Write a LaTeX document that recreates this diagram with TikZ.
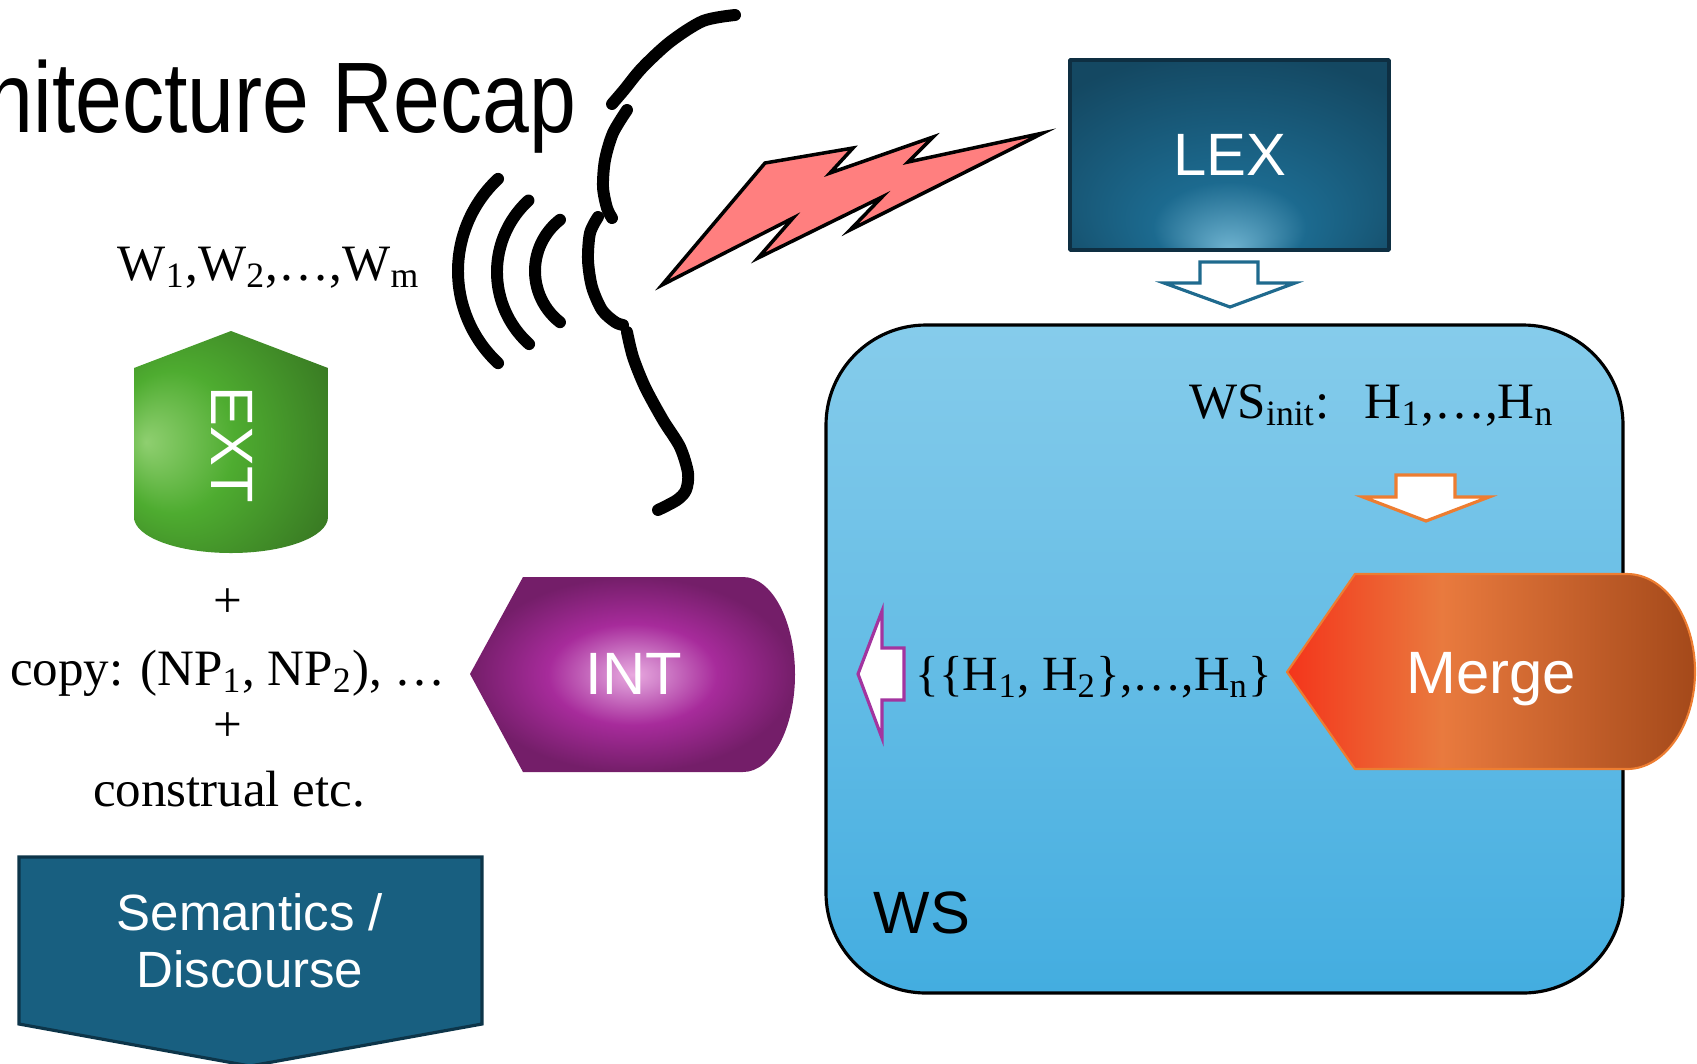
\documentclass[tikz,border=0pt]{standalone}
\usepackage{fontspec}
\setmainfont{Liberation Serif}
\setsansfont{Liberation Sans}
\newfontfamily\titlefont{Liberation Sans}[FakeStretch=0.84]

\begin{document}
\begin{tikzpicture}
        [x=0.01cm, y=-0.01cm, line cap=round, line join=round,
        every node/.style={inner sep=0pt},
        % Styles
        box text/.style={font=\sffamily\fontsize{17}{20}\selectfont, text=white},
        serif text/.style={font=\fontsize{14.5}{17}\selectfont},
        sound line/.style={line width=3.4pt},
        block arrow/.style={fill=white, line width=0.9pt, line join=miter}]

        % Colors
        \definecolor{wstop}{HTML}{86CCEB}
        \definecolor{wsmid}{HTML}{7AC5E7}
        \definecolor{wsbottom}{HTML}{43ADE0}
        \definecolor{lexdark}{HTML}{144862}
        \definecolor{lexmid}{HTML}{1C6A8F}
        \definecolor{lexglow}{HTML}{6FB3D0}
        \definecolor{lexline}{HTML}{0E2F42}
        \definecolor{intlight}{HTML}{E9A8DF}
        \definecolor{intpink}{HTML}{D386CC}
        \definecolor{intmid}{HTML}{A72B9B}
        \definecolor{intdark}{HTML}{741E69}
        \definecolor{extlight}{HTML}{8FCF70}
        \definecolor{extmid}{HTML}{4EAC30}
        \definecolor{extdark}{HTML}{397A23}
        \definecolor{mergered}{HTML}{F4351B}
        \definecolor{mergeorange}{HTML}{E97A3E}
        \definecolor{mergebrown}{HTML}{A4491A}
        \definecolor{mergeline}{HTML}{ED7D31}
        \definecolor{semfill}{HTML}{185F80}
        \definecolor{semline}{HTML}{0D3549}
        \definecolor{lexarrow}{HTML}{1F6A8E}
        \definecolor{intarrow}{HTML}{A3349F}
        \definecolor{boltcolor}{HTML}{FF7F7F}

        \pgfdeclareradialshading{lexshade}{\pgfpoint{0bp}{-25bp}}%
                {color(0bp)=(lexglow); color(12bp)=(lexmid); color(35bp)=(lexdark); color(50bp)=(lexdark)}
        \pgfdeclareradialshading{intshade}{\pgfpoint{0bp}{0bp}}%
                {color(0bp)=(intlight); color(4bp)=(intpink); color(13bp)=(intmid); color(25bp)=(intdark); color(50bp)=(intdark)}
        \pgfdeclareradialshading{extshade}{\pgfpoint{-22bp}{0bp}}%
                {color(0bp)=(extlight); color(16bp)=(extmid); color(36bp)=(extdark); color(50bp)=(extdark)}
        \pgfdeclarehorizontalshading{mergeshade}{100bp}%
                {color(0bp)=(mergered); color(25bp)=(mergered); color(44bp)=(mergeorange); color(75bp)=(mergebrown); color(100bp)=(mergebrown)}

        \useasboundingbox (0,0) rectangle (1697,1063);
        \clip (0,0) rectangle (1697,1063);

        % Title
        \node[font=\titlefont\fontsize{28.5}{33}\selectfont, anchor=base east] (title) at (577,132) {Architecture Recap};

        % The speaker: face and sound waves
        \draw[sound line] plot[smooth] coordinates {(735,15) (703,21) (670,42) (642,68) (624,90) (612,104)};
        \draw[sound line] plot[smooth] coordinates {(627,110) (613,133) (605,160) (603,187) (607,208) (612,218)};
        \draw[sound line] plot[smooth] coordinates {(598,217) (590,233) (588,260) (592,287) (602,310) (615,322) (623,325)};
        \draw[sound line] plot[smooth] coordinates {(627,332) (633,357) (645,387) (663,420) (680,447) (688,473) (686,490) (677,500) (658,510)};
        \draw[sound line] (584,271) ++(133:126) arc [start angle=133, end angle=227, radius=126];
        \draw[sound line] (594,272) ++(132:97) arc [start angle=132, end angle=227.5, radius=97];
        \draw[sound line] (600,271) ++(128:65) arc [start angle=128, end angle=232, radius=65];

        % Lightning bolt
        \draw[fill=boltcolor, line width=1pt, line join=miter]
                (662,285) -- (765,163) -- (853,148) -- (830,173) -- (933,137) -- (908,162)
                -- (1043,133) -- (850,230) -- (882,197) -- (758,258) -- (793,218) -- cycle;

        % Lexicon
        \shade[shading=lexshade] (1070,60) rectangle (1389,250);
        \draw[lexline, line width=1pt] (1070,60) rectangle (1389,250);
        \node[box text] (lex) at (1230,155) {LEX};
        \draw[block arrow, draw=lexarrow] (1200,262) -- (1258,262) -- (1258,283) -- (1295,283)
                -- (1230,307) -- (1164,283) -- (1200,283) -- cycle;

        % Workspace
        \shade[top color=wstop, middle color=wsmid, bottom color=wsbottom, rounded corners=1cm]
                (826,325) rectangle (1623,993);
        \draw[line width=0.9pt, rounded corners=1cm] (826,325) rectangle (1623,993);
        \node[serif text, anchor=base west] (wsinit) at (1189,418)
                {WS\textsubscript{init}:\hspace{10pt}H\textsubscript{1},\ldots,H\textsubscript{n}};
        \draw[block arrow, draw=mergeline] (1396,475) -- (1455,475) -- (1455,497) -- (1489,497)
                -- (1426,521) -- (1363,497) -- (1396,497) -- cycle;
        \node[serif text, font=\fontsize{14}{17}\selectfont, anchor=base west] (sets) at (915,690)
                {\{\{H\textsubscript{1}, H\textsubscript{2}\},\ldots,H\textsubscript{n}\}};
        \draw[block arrow, draw=intarrow] (858,674) -- (882,611) -- (882,648) -- (904,648)
                -- (904,700) -- (882,700) -- (882,738) -- cycle;
        \node[font=\sffamily\fontsize{17}{20}\selectfont, anchor=base west] (ws) at (873,933) {WS};

        % Merge
        \shade[shading=mergeshade] (1287,672) -- (1355,574) -- (1627,574)
                arc [start angle=-90, end angle=90, x radius=68, y radius=97.5] -- (1355,769) -- cycle;
        \draw[mergeline, line width=0.6pt] (1287,672) -- (1355,574) -- (1627,574)
                arc [start angle=-90, end angle=90, x radius=68, y radius=97.5] -- (1355,769) -- cycle;
        \node[box text, anchor=base] (merge) at (1491,693) {Merge};

        % Interpretation
        \shade[shading=intshade] (470,674) -- (523,577) -- (743,577)
                arc [start angle=-90, end angle=90, x radius=52, y radius=97.5] -- (523,772) -- cycle;
        \node[box text] (int) at (634,674) {INT};

        % Externalization
        \shade[shading=extshade]
                (231,331) -- (328,368) -- (328,517)
                arc [start angle=0, end angle=180, x radius=97, y radius=36] -- (134,368) -- cycle;
        \node[box text, rotate=-90] (ext) at (232,445) {EXT};

        % Left column
        \node[serif text, anchor=base west] (words) at (117,280)
                {W\textsubscript{1},W\textsubscript{2},\ldots,W\textsubscript{m}};
        \node[serif text] (plus1) at (228,603) {+};
        \node[serif text, anchor=base] (copy) at (228,685)
                {copy: (NP\textsubscript{1}, NP\textsubscript{2}), \ldots};
        \node[serif text] (plus2) at (228,727) {+};
        \node[serif text, anchor=base] (construal) at (229,806) {construal etc.};

        % Semantics / discourse
        \draw[fill=semfill, draw=semline, line width=0.9pt, line join=miter]
                (19,857) -- (482,857) -- (482,1024) -- (250,1066) -- (19,1024) -- cycle;
        \node[box text, font=\sffamily\fontsize{14.5}{16.2}\selectfont, align=center] (sem) at (250,941)
                {Semantics /\\Discourse};
\end{tikzpicture}
\end{document}
